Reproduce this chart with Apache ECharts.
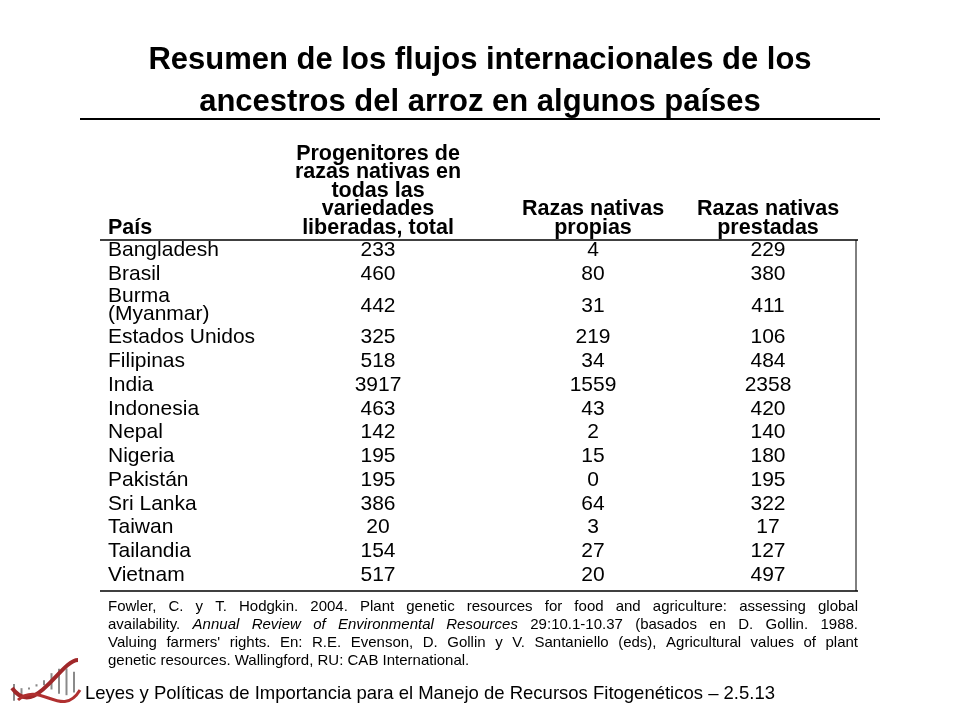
<!DOCTYPE html>
<html><head><meta charset="utf-8">
<script src="https://cdn.jsdelivr.net/npm/echarts@6/dist/echarts.min.js"></script>
<style>html,body{margin:0;padding:0;background:#fff}#c{width:960px;height:720px}</style>
</head><body><div id="c"></div>
<script>
const countries = ['Bangladesh','Brasil','Burma\n(Myanmar)','Estados Unidos','Filipinas','India','Indonesia','Nepal','Nigeria','Pakistán','Sri Lanka','Taiwan','Tailandia','Vietnam'];
const totalValues = [233,460,442,325,518,3917,463,142,195,195,386,20,154,517];
const ownValues = [4,80,31,219,34,1559,43,2,15,0,64,3,27,20];
const borrowedValues = [229,380,411,106,484,2358,420,140,180,195,322,17,127,497];
const headers = ['País','Progenitores de\nrazas nativas en\ntodas las\nvariedades\nliberadas, total','Razas nativas\npropias','Razas nativas\nprestadas'];
const titleLines = ['Resumen de los flujos internacionales de los','ancestros del arroz en algunos países'];
const sourceLines = [
 [{t:'Fowler, C. y T. Hodgkin. 2004. Plant genetic resources for food and agriculture: assessing global'}],
 [{t:'availability.'},{t:'Annual Review of Environmental Resources',i:true},{t:'29:10.1-10.37 (basados en D. Gollin. 1988.'}],
 [{t:'Valuing farmers\' rights. En: R.E. Evenson, D. Gollin y V. Santaniello (eds), Agricultural values of plant'}],
 [{t:'genetic resources. Wallingford, RU: CAB International.'}]
];
const footerText = 'Leyes y Políticas de Importancia para el Manejo de Recursos Fitogenéticos – 2.5.13';

const F = 'Liberation Sans, Arial, sans-serif';
const chart = echarts.init(document.getElementById('c'));
const g = [];
titleLines.forEach((t,i)=>g.push({type:'text',x:480,y:60+i*42,style:{text:t,font:'bold 31px '+F,fill:'#000',align:'center',verticalAlign:'middle'}}));
g.push({type:'line',shape:{x1:80,y1:119,x2:880,y2:119},style:{stroke:'#000',lineWidth:2}});
const colX=[108,378,593,768];
const HF='bold 21.5px '+F;
g.push({type:'text',x:colX[0],y:228,style:{text:headers[0],font:HF,fill:'#000',verticalAlign:'middle'}});
for(let c=1;c<4;c++){
  const lines=headers[c].split('\n');
  lines.forEach((ln,k)=>{
    g.push({type:'text',x:colX[c],y:228-(lines.length-1-k)*18.5,style:{text:ln,font:HF,fill:'#000',align:'center',verticalAlign:'middle'}});
  });
}
g.push({type:'line',shape:{x1:100,y1:240,x2:858,y2:240},style:{stroke:'#000',lineWidth:1.5}});
g.push({type:'line',shape:{x1:100,y1:591,x2:858,y2:591},style:{stroke:'#000',lineWidth:1.5}});
g.push({type:'line',shape:{x1:856,y1:240,x2:856,y2:591},style:{stroke:'#000',lineWidth:1}});
const BF='21px '+F;
let y=250;
countries.forEach((c,i)=>{
  const two=c.includes('\n');
  const cy= two? y+9 : y;
  if(two){
    const p=c.split('\n');
    g.push({type:'text',x:colX[0],y:y-1,style:{text:p[0],font:BF,fill:'#000',verticalAlign:'middle'}});
    g.push({type:'text',x:colX[0],y:y+17,style:{text:p[1],font:BF,fill:'#000',verticalAlign:'middle'}});
  } else g.push({type:'text',x:colX[0],y:cy,style:{text:c,font:BF,fill:'#000',verticalAlign:'middle'}});
  [totalValues[i],ownValues[i],borrowedValues[i]].forEach((v,k)=>{
    g.push({type:'text',x:colX[k+1],y:cy,style:{text:String(v),font:BF,fill:'#000',align:'center',verticalAlign:'middle'}});
  });
  y += two? 40 : 23.75;
});
const ctx=document.createElement('canvas').getContext('2d');
const SF='15px '+F, SIF='italic 15px '+F;
const L0=108, L1=858;
sourceLines.forEach((segs,li)=>{
  const words=[];
  segs.forEach(s=>s.t.split(' ').forEach(w=>{ if(w) words.push({w,i:!!s.i}); }));
  words.forEach(o=>{ctx.font=o.i?SIF:SF; o.wd=ctx.measureText(o.w).width;});
  const total=words.reduce((a,o)=>a+o.wd,0);
  ctx.font=SF; const sp0=ctx.measureText(' ').width;
  const last= li===sourceLines.length-1;
  const gap= last? sp0 : (L1-L0-total)/(words.length-1);
  let x=L0;
  words.forEach(o=>{
    g.push({type:'text',x,y:607+li*18,style:{text:o.w,font:o.i?SIF:SF,fill:'#000',verticalAlign:'middle'}});
    x+=o.wd+gap;
  });
});
for(let k=0;k<9;k++){
  const t=k/8;
  g.push({type:'line',shape:{x1:14+t*60,y1:684+Math.sin(t*6)*8-t*10,x2:14+t*60,y2:696+Math.sin(t*6+2.5)*8-t*10},style:{stroke:'#8a8a8a',lineWidth:2}});
}
g.push({type:'bezierCurve',shape:{x1:12,y1:688,x2:78,y2:660,cpx1:35,cpy1:720,cpx2:60,cpy2:660},style:{stroke:'#a0282a',lineWidth:4,fill:null}});
g.push({type:'bezierCurve',shape:{x1:18,y1:700,x2:80,y2:690,cpx1:40,cpy1:680,cpx2:62,cpy2:720},style:{stroke:'#b03030',lineWidth:3,fill:null}});
g.push({type:'text',x:85,y:694,style:{text:footerText,font:'18.5px '+F,fill:'#000',verticalAlign:'middle'}});
chart.setOption({animation:false,graphic:g});
</script></body></html>
